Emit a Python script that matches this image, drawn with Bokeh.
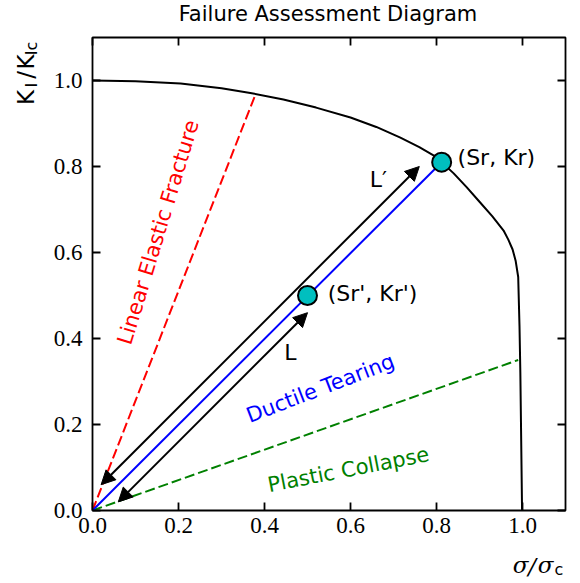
import math
from bokeh.plotting import figure
from bokeh.layouts import row, column
from bokeh.models import (Range1d, FixedTicker, LinearAxis, Arrow, NormalHead, Label,
                          NumeralTickFormatter, ColumnDataSource)
from bokeh.core.properties import value
from bokeh.embed import file_html
from bokeh.resources import INLINE

# ---------------- data ----------------
curve_x = [0.0, 0.1, 0.205, 0.3, 0.367, 0.444, 0.52, 0.6, 0.66, 0.716, 0.76, 0.793,
           0.812, 0.84, 0.87, 0.9, 0.93, 0.956, 0.967, 0.977, 0.984, 0.990,
           0.993, 0.995, 0.997, 0.999]
curve_y = [1.0, 0.998, 0.993, 0.982, 0.971, 0.956, 0.937, 0.914, 0.892, 0.867, 0.845, 0.826,
           0.81, 0.784, 0.752, 0.718, 0.684, 0.651, 0.63, 0.607, 0.581, 0.543,
           0.43, 0.32, 0.16, 0.0]

elastic_x = [0.0, 0.38]
elastic_y = [0.0, 0.97]
collapse_x = [0.0, 0.99]
collapse_y = [0.0, 0.35]
tearing_x = [0.0, 0.812]
tearing_y = [0.0, 0.81]

point_x = [0.5, 0.812]
point_y = [0.5, 0.81]
point_labels = ["(Sr', Kr')", "(Sr, Kr)"]
point_label_x = [0.547, 0.849]
point_label_y = [0.505, 0.822]

arrow_x0 = [0.06, 0.02]
arrow_y0 = [0.02, 0.06]
arrow_x1 = [0.5, 0.76]
arrow_y1 = [0.46, 0.80]
arrow_names = ["L", "L\u2032"]
arrow_name_x = [0.46, 0.665]
arrow_name_y = [0.367, 0.77]

ticks = [0.0, 0.2, 0.4, 0.6, 0.8, 1.0]

title_text = "Failure Assessment Diagram"
ylabel_parts = ["K", "I", "/", "K", "Ic"]
xlabel_parts = ["\u03c3", "/", "\u03c3", "c"]

SERIF = "Liberation Serif"
SANS = "DejaVu Sans"

# ---------------- main figure ----------------
p = figure(frame_width=473, frame_height=473,
           x_range=Range1d(0, 1.1), y_range=Range1d(0, 1.1),
           output_backend="svg", toolbar_location=None,
           min_border_left=52, min_border_right=15, min_border_top=7, min_border_bottom=40)
p.background_fill_color = "white"
p.border_fill_color = "white"
p.grid.visible = False
p.outline_line_color = "black"
p.outline_line_width = 1.8


def style_axis(ax, labels=True):
    ax.ticker = FixedTicker(ticks=ticks)
    ax.formatter = NumeralTickFormatter(format="0.0")
    ax.axis_line_color = None
    ax.major_tick_in = 8
    ax.major_tick_out = 0
    ax.major_tick_line_width = 1.8
    ax.major_tick_line_color = "black"
    ax.minor_tick_line_color = None
    if labels:
        ax.major_label_text_font = SERIF
        ax.major_label_text_font_size = "23px"
        ax.major_label_text_color = "black"
    else:
        ax.major_label_text_font_size = "1px"
        ax.major_label_text_color = None
        ax.major_label_standoff = 0


for ax in p.xaxis:
    style_axis(ax)
    ax.major_label_standoff = 7
for ax in p.yaxis:
    style_axis(ax)
    ax.major_label_standoff = 10

top_ax = LinearAxis()
style_axis(top_ax, labels=False)
p.add_layout(top_ax, "above")
right_ax = LinearAxis()
style_axis(right_ax, labels=False)
p.add_layout(right_ax, "right")

p.line(curve_x, curve_y, line_color="black", line_width=2)
p.line(elastic_x, elastic_y, line_color="#ff0000", line_width=2, line_dash="10 4")
p.line(collapse_x, collapse_y, line_color="#008000", line_width=2, line_dash="10 4")
p.line(tearing_x, tearing_y, line_color="#0000ff", line_width=2)

arrow_src = ColumnDataSource(dict(x0=arrow_x0, y0=arrow_y0, x1=arrow_x1, y1=arrow_y1))
p.add_layout(Arrow(source=arrow_src, x_start="x0", y_start="y0", x_end="x1", y_end="y1",
                   line_color="black", line_width=2,
                   start=NormalHead(size=14, fill_color="black", line_color="black", line_width=1),
                   end=NormalHead(size=14, fill_color="black", line_color="black", line_width=1)))

p.scatter(point_x, point_y, size=19, fill_color="#00bfbf", line_color="black", line_width=2)

p.text(x=point_label_x, y=point_label_y, text=point_labels, text_font=value(SANS),
       text_font_size="22px", text_align="left", text_baseline="middle", text_color="black")
p.text(x=arrow_name_x, y=arrow_name_y, text=arrow_names, text_font=value(SANS),
       text_font_size="22px", text_align="center", text_baseline="middle", text_color="black")

p.add_layout(Label(x=0.153, y=0.647, text="Linear Elastic Fracture", angle=math.radians(73),
                   text_font=SANS, text_font_size="21px", text_color="#ff0000",
                   text_align="center", text_baseline="middle"))
p.add_layout(Label(x=0.53, y=0.284, text="Ductile Tearing", angle=math.radians(21),
                   text_font=SANS, text_font_size="21px", text_color="#0000ff",
                   text_align="center", text_baseline="middle"))
p.add_layout(Label(x=0.595, y=0.095, text="Plastic Collapse", angle=math.radians(11),
                   text_font=SANS, text_font_size="21px", text_color="#008000",
                   text_align="center", text_baseline="middle"))


# ---------------- helper figures for title and axis labels ----------------
def text_panel(w, h):
    f = figure(width=w, height=h, x_range=Range1d(0, w), y_range=Range1d(0, h),
               title=None, output_backend="svg", toolbar_location=None,
               x_axis_location=None, y_axis_location=None,
               min_border=0, min_border_left=0, min_border_right=0,
               min_border_top=0, min_border_bottom=0)
    f.grid.visible = False
    f.outline_line_color = None
    f.background_fill_color = "white"
    f.border_fill_color = "white"
    return f


# title panel: page y 0..30 ; local y = 30 - page_y
title_fig = text_panel(580, 30)
title_fig.text(x=[327.5], y=[16.5], text=[title_text], text_font=value(SANS),
               text_font_size="21px", text_align="center", text_baseline="middle",
               text_color="black")

# y label panel: page x 0..40, page y 30..550 ; local y = 550 - page_y
ylab_fig = text_panel(40, 520)
ylab_x = [25, 31, 25, 25, 31]
ylab_y = [454, 467.5, 479, 493, 508]
ylab_size = ["23px", "16px", "23px", "23px", "16px"]
ylab_fig.text(x=ylab_x, y=ylab_y, text=ylabel_parts, angle=math.pi / 2,
              text_font=value(SANS), text_font_size=ylab_size,
              text_align="center", text_baseline="middle", text_color="black")

# x label panel: page y 550..583 ; local y = 583 - page_y
xlab_fig = text_panel(580, 33)
xlab_fig.text(x=[520, 531.5, 545], y=[18.5, 17.5, 18.5], text=xlabel_parts[:3],
              text_font=value("DejaVu Serif"), text_font_size="23px",
              text_font_style="italic", text_align="center", text_baseline="middle",
              text_color="black")
xlab_fig.text(x=[558.5], y=[14], text=xlabel_parts[3:], text_font=value(SANS),
              text_font_size="16px", text_align="center", text_baseline="middle",
              text_color="black")

layout = column(title_fig, row(ylab_fig, p), xlab_fig)

open("out.html", "w").write(file_html(layout, INLINE))
